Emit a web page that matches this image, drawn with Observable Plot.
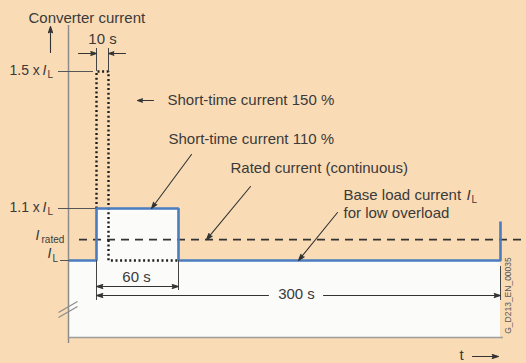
<!DOCTYPE html>
<html><head><meta charset="utf-8">
<script src="https://cdn.jsdelivr.net/npm/d3@7"></script>
<script src="https://cdn.jsdelivr.net/npm/@observablehq/plot@0.6"></script>
<style>
html,body{margin:0;padding:0;background:#f9dcb6;}
#chart svg{display:block;}
</style></head><body><div id="chart"></div>
<script>
// Load profile (step-after): time in s, current in multiples of I_L
const times = [-23, 0, 60, 300];
const currents = [1.0, 1.1, 1.0, 1.075];
// Short-time current 150 % (dotted)
const shortTimes = [0, 0, 10, 60];
const shortCurrents = [1.1, 1.5, 1.0, 1.0];
// Rated current (continuous)
const ratedCurrent = 1.04;
// Level labels on the current axis
const levelValues = [1.5, 1.1];
const levelLabels = ["1.5 x", "1.1 x"];
// Durations
const durationLabels = ["10 s", "60 s", "300 s"];
const shortDuration = [0, 10];
const overloadDuration = [0, 60];
const cycleDuration = [0, 300];

const FONT = "'Liberation Sans', Arial, sans-serif";
const TXT = "#3a3a3a", BLUE = "#4a7cc0", DARK = "#333", GRAY = "#8c8c8c";

// schematic (piecewise) axes
const xs = d3.scaleLinear([0, 10, 60, 300], [96, 108, 178, 500]);
const ys = d3.scaleLinear([0, 1, 1.1, 1.5], [337, 260, 208, 71]);
const px = v => xs.invert(v), py = v => ys.invert(v);

const profile = times.map((t, k) => ({t, i: currents[k]}));
const short = shortTimes.map((t, k) => ({t, i: shortCurrents[k]}));

const txt = (text, x, y, o = {}) => Plot.text([0], {x: () => x, y: () => y, text: () => text,
  textAnchor: "start", lineAnchor: "middle", fontSize: 15, fill: TXT, ...o});
const arr = (x1, y1, x2, y2, o = {}) => Plot.arrow([0], {x1: () => x1, y1: () => y1, x2: () => x2, y2: () => y2,
  stroke: DARK, fill: DARK, strokeWidth: 1.1, headLength: 9, headAngle: 36, ...o});

const chart = Plot.plot({
  width: 526, height: 363, margin: 0,
  x: {type: "linear", transform: xs, domain: [0, 526], range: [0, 526], axis: null},
  y: {type: "linear", transform: ys, domain: [0, 363], range: [0, 363], axis: null},
  style: {background: "transparent", fontFamily: FONT, overflow: "visible"},
  marks: [
    Plot.areaY(profile, {x: "t", y: "i", curve: "step-after", fill: "#fbfbfa"}),
    // axes
    Plot.ruleX([px(68)], {y1: py(25), y2: py(343), stroke: GRAY, strokeWidth: 1.5}),
    Plot.ruleY([0], {x1: px(69), x2: px(503), stroke: "#9d9d9d", strokeWidth: 1.5}),
    Plot.link([0, 1], {x1: px(58), x2: px(77), y1: d => py(312 + 5 * d), y2: d => py(301 + 5 * d), stroke: GRAY, strokeWidth: 1.2}),
    // level leader lines
    Plot.ruleY(levelValues, {x1: px(58), x2: d => d === 1.5 ? px(93) : 0, stroke: "#555", strokeWidth: 1}),
    Plot.ruleY([1.0], {x1: px(60), x2: px(69), stroke: "#555", strokeWidth: 1}),
    // rated current dashed
    Plot.ruleY([ratedCurrent], {x1: px(79), x2: px(530), stroke: DARK, strokeWidth: 1.7, strokeDasharray: "8,6"}),
    // short-time 150 %
    Plot.line(short, {x: "t", y: "i", curve: "step-after", stroke: "#1e1e1e", strokeWidth: 2.4, strokeDasharray: "2,2.6", strokeLinecap: "butt", strokeLinejoin: "miter"}),
    // load profile
    Plot.line(profile, {x: "t", y: "i", curve: "step-after", stroke: BLUE, strokeWidth: 2.6, strokeLinecap: "butt", strokeLinejoin: "miter"}),
    // 10 s dimension
    Plot.ruleX(shortDuration, {y1: py(48), y2: 1.5, stroke: "#444", strokeWidth: 1}),
    arr(px(78), py(53), shortDuration[0], py(53)),
    arr(px(125), py(53), shortDuration[1], py(53)),
    txt(durationLabels[0], (shortDuration[0] + shortDuration[1]) / 2, py(39), {textAnchor: "middle"}),
    // 60 s dimension
    Plot.ruleX([overloadDuration[1]], {y1: 1.0, y2: py(290), stroke: "#444", strokeWidth: 1}),
    Plot.ruleX([cycleDuration[0]], {y1: 1.0, y2: py(300), stroke: "#444", strokeWidth: 1}),
    Plot.ruleX([cycleDuration[1]], {y1: py(266), y2: py(300), stroke: "#444", strokeWidth: 1}),
    arr(30, py(286), overloadDuration[0], py(286)),
    arr(30, py(286), overloadDuration[1], py(286)),
    txt(durationLabels[1], 30, py(277), {textAnchor: "middle"}),
    // 300 s dimension
    arr(px(268), py(295), cycleDuration[0], py(295)),
    arr(px(323), py(295), cycleDuration[1], py(295)),
    txt(durationLabels[2], px(296), py(294), {textAnchor: "middle"}),
    // leaders
    arr(px(191), py(154), px(151), 1.1),
    arr(px(250), py(186), px(206), ratedCurrent),
    arr(px(337), py(212), px(298), 1.0),
    arr(px(153), py(100), px(137), py(100)),
    arr(px(50), py(52), px(50), py(26)),
    arr(px(472), py(356), px(498), py(356)),
    // texts
    txt("Converter current", px(28), py(18)),
    txt("Short-time current 150 %", px(167), py(100)),
    txt("Short-time current 110 %", px(168), py(139)),
    txt("Rated current (continuous)", px(230), py(168)),
    txt("Base load current", px(343), py(195)),
    txt("I", px(466), py(195), {fontStyle: "italic"}),
    txt("L", px(471), py(199), {fontSize: 10}),
    txt("for low overload", px(343), py(213)),
    txt("t", px(459), py(355)),
    Plot.text(levelValues, {x: px(9), y: d => d, text: (d, k) => levelLabels[k], textAnchor: "start", lineAnchor: "middle", fontSize: 14, fill: TXT, dy: -1}),
    Plot.text(levelValues, {x: px(42), y: d => d, text: () => "I", fontStyle: "italic", textAnchor: "start", lineAnchor: "middle", fontSize: 14, fill: TXT, dy: -1}),
    Plot.text(levelValues, {x: px(47), y: d => d, text: () => "L", textAnchor: "start", lineAnchor: "middle", fontSize: 10, fill: TXT, dy: 3}),
    txt("I", px(35), py(235), {fontStyle: "italic", fontSize: 14}),
    txt("rated", px(41), py(239.5), {fontSize: 10}),
    txt("I", px(47), py(253.5), {fontStyle: "italic", fontSize: 14}),
    txt("L", px(52), py(258.5), {fontSize: 10}),
    txt("G_D213_EN_00035", px(508), py(295), {rotate: -90, textAnchor: "middle", fontSize: 8.5, fill: "#555"})
  ]
});
document.getElementById("chart").appendChild(chart);
</script>
</body></html>
